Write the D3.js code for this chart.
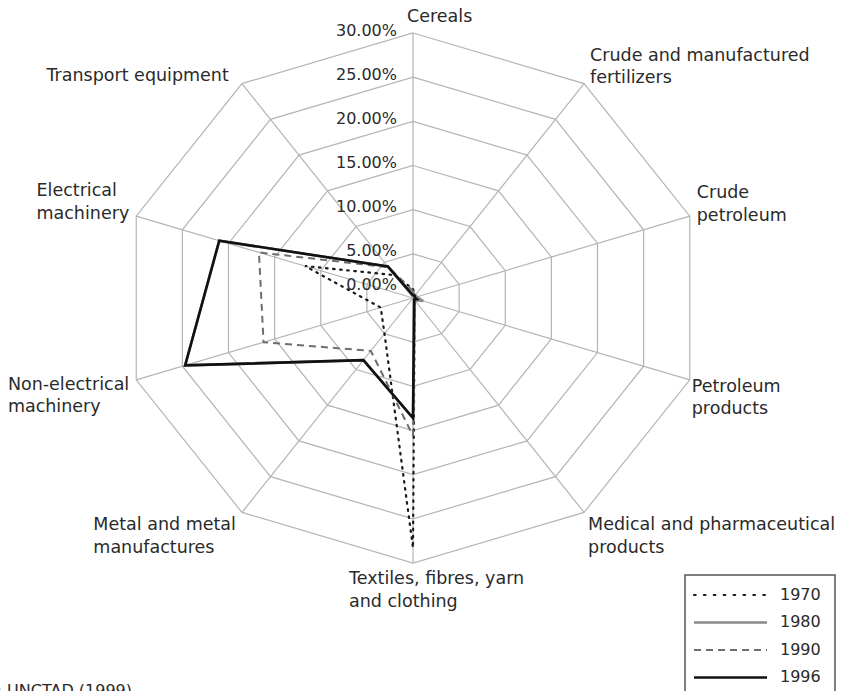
<!DOCTYPE html>
<html>
<head>
<meta charset="utf-8">
<script src="https://cdn.jsdelivr.net/npm/d3@7"></script>
<style>
  body { margin: 0; background: #fff; }
  svg { display: block; }
  text { font-family: "DejaVu Sans", sans-serif; fill: #2a2a2a; }
</style>
</head>
<body>
<svg id="chart"></svg>
<script>
// axis labels, clockwise from the top
const axes = [
  ["Cereals"],
  ["Crude and manufactured", "fertilizers"],
  ["Crude", "petroleum"],
  ["Petroleum", "products"],
  ["Medical and pharmaceutical", "products"],
  ["Textiles, fibres, yarn", "and clothing"],
  ["Metal and metal", "manufactures"],
  ["Non-electrical", "machinery"],
  ["Electrical", "machinery"],
  ["Transport equipment"]
];
const years = ["1970", "1980", "1990", "1996"];
// share of exports, %
const v1970 = [1.0, 0.4, 0.3, 0.4, 0.3, 28.3, 5.0, 3.5, 11.7, 3.2];
const v1980 = [0.3, 0.4, 0.4, 1.1, 0.3, 13.6, 8.7, 24.7, 21.0, 4.4];
const v1990 = [0.8, 0.3, 0.3, 0.6, 0.3, 15.6, 7.4, 16.2, 16.7, 4.3];
const v1996 = [0.3, 0.3, 0.2, 0.4, 0.2, 13.6, 8.7, 24.7, 21.0, 4.4];
const ticks = [0, 5, 10, 15, 20, 25, 30];

const series = [
  { year: years[0], values: v1970, stroke: "#1a1a1a", width: 2.2, dash: "1.6 5.5", cap: "round" },
  { year: years[1], values: v1980, stroke: "#8a8a8a", width: 2.6, dash: null, cap: "butt" },
  { year: years[2], values: v1990, stroke: "#6e6e6e", width: 2, dash: "7 5", cap: "butt" },
  { year: years[3], values: v1996, stroke: "#111", width: 2.6, dash: null, cap: "butt" }
];

const width = 847, height = 691;
const cx = 413, cy = 298, RX = 291, RY = 265;

const svg = d3.select("#chart").attr("width", width).attr("height", height);

const r = d3.scaleLinear().domain([0, 30]).range([0, 1]);
const angle = d3.scaleLinear().domain([0, axes.length]).range([0, 2 * Math.PI]);
const px = (v, i) => cx + r(v) * RX * Math.sin(angle(i));
const py = (v, i) => cy - r(v) * RY * Math.cos(angle(i));

const poly = d3.line().x((d) => px(d.v, d.i)).y((d) => py(d.v, d.i)).curve(d3.curveLinearClosed);

// grid
const grid = svg.append("g").attr("fill", "none").attr("stroke", "#b5b5b5").attr("stroke-width", 1.2);
grid.selectAll(".ring")
  .data(ticks.slice(1))
  .enter()
  .append("path")
  .attr("class", "ring")
  .attr("d", (t) => poly(axes.map((a, i) => ({ v: t, i }))));
grid.selectAll(".spoke")
  .data(axes)
  .enter()
  .append("line")
  .attr("class", "spoke")
  .attr("x1", cx).attr("y1", cy)
  .attr("x2", (d, i) => px(30, i))
  .attr("y2", (d, i) => py(30, i));

// tick labels on the top axis
svg.append("g")
  .selectAll("text")
  .data(ticks)
  .enter()
  .append("text")
  .attr("x", cx - 16)
  .attr("y", (t) => (t === 0 ? cy - 13 : py(t, 0) - 2))
  .attr("text-anchor", "end")
  .attr("dominant-baseline", "middle")
  .style("font-size", "16px")
  .text((t) => t.toFixed(2) + "%");

// axis labels: offsets from the outer vertex, side = where the block sits
const labelPos = [
  { dx: -6, dy: -11, side: "start" },
  { dx: 6, dy: -23, side: "start" },
  { dx: 7, dy: -18, side: "start" },
  { dx: 2, dy: 12, side: "start" },
  { dx: 4, dy: 18, side: "start" },
  { dx: -64, dy: 21, side: "start" },
  { dx: -6, dy: 18, side: "end" },
  { dx: -7, dy: 10, side: "end" },
  { dx: -7, dy: -20, side: "end" },
  { dx: -12, dy: -3, side: "end" }
];
const lab = svg.append("g")
  .selectAll("text")
  .data(axes)
  .enter()
  .append("text")
  .style("font-size", "17.5px");
lab.selectAll("tspan")
  .data((d) => d)
  .enter()
  .append("tspan")
  .attr("x", 0)
  .attr("dy", (d, j) => (j === 0 ? 0 : 22.5))
  .text((d) => d);
lab.attr("transform", function (d, i) {
  const p = labelPos[i];
  let x = px(30, i) + p.dx;
  if (p.side === "end") x -= this.getBBox().width;
  return `translate(${x},${py(30, i) + p.dy})`;
});

// series (1996 drawn last, on top)
const lines = svg.append("g").attr("fill", "none");
lines.selectAll("path")
  .data(series)
  .enter()
  .append("path")
  .attr("d", (s) => poly(s.values.map((v, i) => ({ v, i }))))
  .attr("stroke", (s) => s.stroke)
  .attr("stroke-width", (s) => s.width)
  .attr("stroke-dasharray", (s) => s.dash)
  .attr("stroke-linecap", (s) => s.cap)
  .attr("stroke-linejoin", "miter");

// legend
const lg = svg.append("g").attr("transform", "translate(685,575)");
lg.append("rect")
  .attr("width", 150).attr("height", 130)
  .attr("fill", "#fff").attr("stroke", "#555").attr("stroke-width", 1.5);
const row = lg.selectAll(".row")
  .data(series)
  .enter()
  .append("g")
  .attr("class", "row")
  .attr("transform", (s, i) => `translate(0,${20 + i * 27.5})`);
row.append("line")
  .attr("x1", 9).attr("x2", 82)
  .attr("stroke", (s) => s.stroke)
  .attr("stroke-width", (s) => s.width)
  .attr("stroke-dasharray", (s) => (s.dash === "1.6 5.5" ? "1.6 8.3" : s.dash))
  .attr("stroke-linecap", (s) => s.cap);
row.append("text")
  .attr("x", 95)
  .attr("dominant-baseline", "middle")
  .style("font-size", "16px")
  .text((s) => s.year);

// source note, mostly below the frame as in the original
svg.append("text")
  .attr("x", 132).attr("y", 696)
  .attr("text-anchor", "end")
  .style("font-size", "16px")
  .text("Source: UNCTAD (1999)");
</script>
</body>
</html>
